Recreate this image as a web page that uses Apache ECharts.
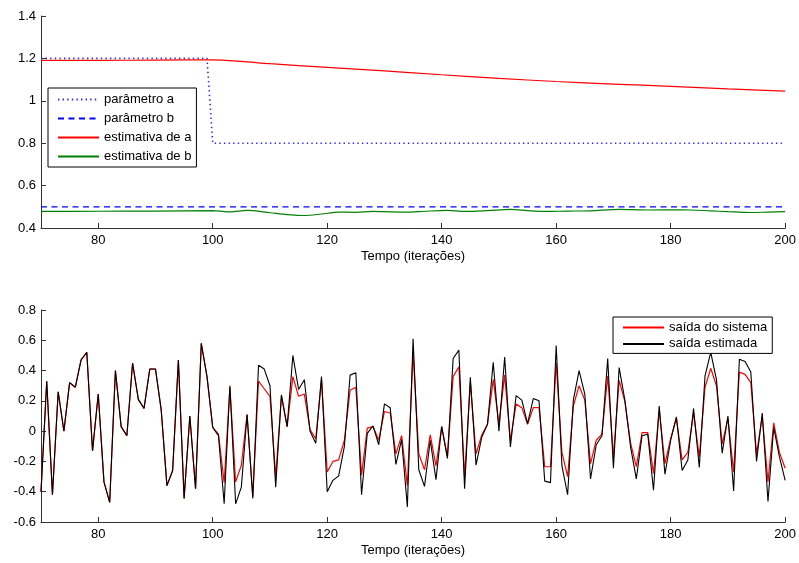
<!DOCTYPE html>
<html>
<head>
<meta charset="utf-8">
<script src="https://cdn.jsdelivr.net/npm/echarts@6/dist/echarts.min.js"></script>
<style>html,body{margin:0;padding:0;background:#fff}#c{width:799px;height:563px}</style>
</head>
<body>
<div id="c"></div>
<script>
// ---- top chart data ----
var paramA_x = [70, 99, 100, 200];
var paramA   = [1.2, 1.2, 0.8, 0.8];
var paramB_x = [70, 200];
var paramB   = [0.5, 0.5];
var estA_x = [70, 80, 90, 100, 105, 110, 120, 130, 140, 150, 160, 170, 180, 190, 200];
var estA   = [1.191, 1.191, 1.192, 1.193, 1.186, 1.175, 1.158, 1.141, 1.123, 1.106, 1.091, 1.079, 1.068, 1.056, 1.046];
var estB_x = [70, 80, 90, 100, 102, 103, 106, 110, 113, 116, 119, 122, 125, 128, 131, 134, 137, 141, 144, 148, 152, 155, 158, 162, 166, 171, 176, 182, 187, 190, 194, 197, 200];
var estB   = [0.478, 0.479, 0.480, 0.482, 0.477, 0.476, 0.483, 0.472, 0.463, 0.459, 0.466, 0.475, 0.474, 0.478, 0.476, 0.475, 0.479, 0.483, 0.478, 0.482, 0.488, 0.482, 0.478, 0.480, 0.481, 0.488, 0.485, 0.486, 0.481, 0.477, 0.473, 0.475, 0.477];

// ---- bottom chart data (iterations 70..200) ----
var firstIter = 70;
var saidaSistema = [
 -0.40, 0.33, -0.42, 0.26, 0.00, 0.32, 0.29, 0.47, 0.52, -0.13,
 0.245, -0.335, -0.47, 0.40, 0.03, -0.03, 0.45, 0.21, 0.15, 0.41,
 0.41, 0.14, -0.36, -0.26, 0.47, -0.445, 0.10, -0.38, 0.58, 0.36,
 0.025, -0.02, -0.34, 0.29, -0.335, -0.225, 0.11, -0.43, 0.33, 0.28,
 0.23, -0.30, 0.23, 0.03, 0.36, 0.23, 0.245, 0.01, -0.05, 0.34,
 -0.27, -0.20, -0.19, -0.06, 0.27, 0.29, -0.29, 0.02, 0.03, -0.06,
 0.13, 0.12, -0.15, -0.03, -0.36, 0.52, -0.15, -0.255, -0.025, -0.23,
 0.03, -0.17, 0.36, 0.425, -0.30, 0.32, -0.15, -0.025, 0.045, 0.34,
 0.05, 0.37, -0.06, 0.18, 0.155, 0.045, 0.155, 0.155, -0.235, -0.235,
 0.45, -0.14, -0.30, 0.165, 0.30, 0.205, -0.215, -0.06, -0.02, 0.365,
 -0.17, 0.335, 0.195, -0.08, -0.235, -0.01, -0.01, -0.28, 0.14, -0.215,
 -0.05, 0.085, -0.19, -0.14, 0.12, -0.17, 0.29, 0.415, 0.30, -0.085,
 0.085, -0.27, 0.39, 0.375, 0.32, -0.15, 0.095, -0.335, 0.055, -0.14,
 -0.245
];
var saidaEstimada = [
 -0.40, 0.33, -0.42, 0.26, 0.00, 0.32, 0.29, 0.47, 0.52, -0.13,
 0.245, -0.335, -0.47, 0.40, 0.03, -0.03, 0.45, 0.21, 0.15, 0.41,
 0.41, 0.14, -0.36, -0.26, 0.47, -0.445, 0.10, -0.38, 0.58, 0.36,
 0.025, -0.03, -0.48, 0.30, -0.48, -0.37, 0.11, -0.445, 0.435, 0.41,
 0.30, -0.37, 0.24, 0.03, 0.50, 0.275, 0.34, 0.00, -0.08, 0.36,
 -0.40, -0.325, -0.295, -0.10, 0.37, 0.385, -0.42, -0.015, 0.035, -0.09,
 0.18, 0.155, -0.22, -0.055, -0.50, 0.61, -0.255, -0.365, -0.06, -0.32,
 0.03, -0.18, 0.48, 0.535, -0.38, 0.355, -0.225, -0.04, 0.045, 0.455,
 0.00, 0.49, -0.105, 0.235, 0.205, 0.05, 0.215, 0.20, -0.33, -0.34,
 0.565, -0.23, -0.42, 0.205, 0.40, 0.245, -0.315, -0.09, -0.03, 0.48,
 -0.245, 0.42, 0.205, -0.105, -0.315, -0.03, -0.02, -0.39, 0.165, -0.285,
 -0.06, 0.095, -0.26, -0.19, 0.15, -0.24, 0.365, 0.52, 0.34, -0.145,
 0.10, -0.395, 0.475, 0.46, 0.39, -0.20, 0.12, -0.465, 0.025, -0.17,
 -0.325
];
var xTicks = [80, 100, 120, 140, 160, 180, 200];
var xName = 'Tempo (iterações)';

function pairs(xs, ys) { return ys.map(function (v, k) { return [xs[k], v]; }); }
function iterPairs(ys) { return ys.map(function (v, k) { return [firstIter + k, v]; }); }

var FONT = '"Liberation Sans", Arial, Helvetica, sans-serif';
var axisColor = '#333';

function xAxisCfg(gi) {
  return {
    type: 'value', gridIndex: gi, min: 70, max: 200,
    name: xName, nameLocation: 'middle', nameGap: 22,
    nameTextStyle: { color: '#000', fontSize: 13, fontFamily: FONT },
    axisLine: { show: true, onZero: false, lineStyle: { color: axisColor, width: 1 } },
    axisTick: { show: true, inside: true, length: 5, customValues: xTicks, lineStyle: { color: axisColor } },
    axisLabel: { show: true, customValues: xTicks, margin: 6, color: '#000', fontSize: 13, fontFamily: FONT },
    splitLine: { show: false }
  };
}
function yAxisCfg(gi, mn, mx) {
  return {
    type: 'value', gridIndex: gi, min: mn, max: mx, interval: 0.2,
    axisLine: { show: true, onZero: false, lineStyle: { color: axisColor, width: 1 } },
    axisTick: { show: true, inside: true, length: 5, lineStyle: { color: axisColor } },
    axisLabel: { margin: 5, color: '#000', fontSize: 13, fontFamily: FONT,
      formatter: function (v) { return String(Math.round(v * 10) / 10); } },
    splitLine: { show: false }
  };
}

var legendBase = {
  orient: 'vertical', itemWidth: 41, itemHeight: 14,
  backgroundColor: '#fff', borderColor: '#000', borderWidth: 1, borderRadius: 0,
  itemStyle: { opacity: 0 },
  textStyle: { color: '#000', fontSize: 13, fontFamily: FONT },
  selectedMode: false
};

var chart = echarts.init(document.getElementById('c'), null, { renderer: 'canvas' });
chart.setOption({
  animation: false,
  backgroundColor: '#fff',
  grid: [
    { left: 41, right: 13, top: 16, height: 212 },
    { left: 41, right: 13, top: 310, height: 212 }
  ],
  xAxis: [xAxisCfg(0), xAxisCfg(1)],
  yAxis: [yAxisCfg(0, 0.4, 1.4), yAxisCfg(1, -0.6, 0.8)],
  legend: [
    Object.assign({}, legendBase, {
      data: ['parâmetro a', 'parâmetro b', 'estimativa de a', 'estimativa de b'],
      left: 48, top: 88, padding: [5, 5, 4, 9], itemGap: 6
    }),
    Object.assign({}, legendBase, {
      data: ['saída do sistema', 'saída estimada'],
      left: 613, top: 317, padding: [4, 5, 3, 9], itemGap: 3.4
    })
  ],
  series: [
    { name: 'parâmetro a', type: 'line', xAxisIndex: 0, yAxisIndex: 0, symbol: 'none',
      data: pairs(paramA_x, paramA), color: '#2a2aff',
      lineStyle: { color: '#2a2aff', width: 1.6, type: [1.4, 3.2] } },
    { name: 'parâmetro b', type: 'line', xAxisIndex: 0, yAxisIndex: 0, symbol: 'none',
      data: pairs(paramB_x, paramB), color: '#0000ff',
      lineStyle: { color: '#0000ff', width: 1.2, type: [6, 4.5] } },
    { name: 'estimativa de a', type: 'line', xAxisIndex: 0, yAxisIndex: 0, symbol: 'none',
      data: pairs(estA_x, estA), smooth: 0.3, color: '#ff0000',
      lineStyle: { color: '#ff0000', width: 1.2 } },
    { name: 'estimativa de b', type: 'line', xAxisIndex: 0, yAxisIndex: 0, symbol: 'none',
      data: pairs(estB_x, estB), smooth: 0.3, color: '#008000',
      lineStyle: { color: '#008000', width: 1.2 } },
    { name: 'saída do sistema', type: 'line', xAxisIndex: 1, yAxisIndex: 1, symbol: 'none',
      data: iterPairs(saidaSistema), color: '#ff0000',
      lineStyle: { color: '#ff0000', width: 1.2 } },
    { name: 'saída estimada', type: 'line', xAxisIndex: 1, yAxisIndex: 1, symbol: 'none',
      data: iterPairs(saidaEstimada), color: '#000000',
      lineStyle: { color: '#000000', width: 1.1 } }
  ]
});
</script>
</body>
</html>
